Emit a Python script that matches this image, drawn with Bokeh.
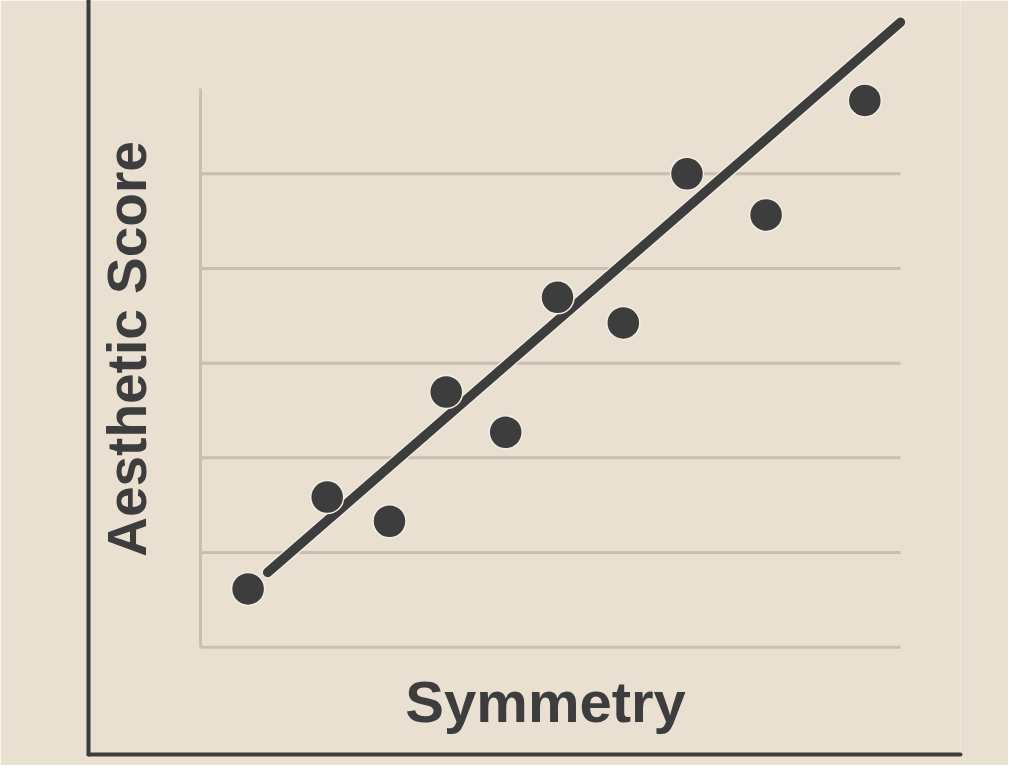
from bokeh.plotting import figure
from bokeh.models import Range1d, FixedTicker, Label
from bokeh.embed import file_html
from bokeh.resources import INLINE

# ---- data ----
symmetry = [0.68, 1.81, 2.70, 3.51, 4.36, 5.10, 6.04, 6.95, 8.08, 9.49]
aesthetic = [12.3, 31.7, 26.6, 53.9, 45.4, 73.9, 68.5, 100.0, 91.3, 115.5]
trend_x = [0.96, 10.0]
trend_y = [15.8, 132.0]
grid_y = [0, 20, 40, 60, 80, 100]
grid_x_span = [0, 10]
grid_v_top = 118
x_label = "Symmetry"
y_label = "Aesthetic Score"

BG = "#e9e0d1"
INK = "#3d3d3d"
GRID = "#c8bfb0"

p = figure(width=1008, height=765, output_backend="svg", toolbar_location=None,
           x_range=Range1d(-1.6, 10.857), y_range=Range1d(-22.67, 136.6),
           min_border_left=88, min_border_right=48, min_border_top=0, min_border_bottom=11)
p.background_fill_color = BG
p.border_fill_color = BG
p.outline_line_color = None
p.xgrid.visible = False
p.ygrid.visible = False

for ax in (p.xaxis[0], p.yaxis[0]):
    ax.ticker = FixedTicker(ticks=[])
    ax.major_tick_line_color = None
    ax.minor_tick_line_color = None
    ax.major_tick_out = 0
    ax.major_label_text_font_size = "0px"
    ax.axis_line_color = INK
    ax.axis_line_width = 4
    ax.axis_line_cap = "round"

# inner grid
p.segment(x0=[grid_x_span[0]] * len(grid_y), x1=[grid_x_span[1]] * len(grid_y),
          y0=grid_y, y1=grid_y, line_color=GRID, line_width=3)
p.segment(x0=[grid_x_span[0]], x1=[grid_x_span[0]], y0=[grid_y[0]], y1=[grid_v_top],
          line_color=GRID, line_width=3)

# trend line with light halo
p.line(trend_x, trend_y, line_color="#f3ede2", line_width=12, line_cap="round")
p.line(trend_x, trend_y, line_color=INK, line_width=9.5, line_cap="round")

# points
p.scatter(symmetry, aesthetic, size=33, fill_color=INK, line_color="#f3ede2", line_width=1.5)

p.add_layout(Label(x=4.93, y=-11.4, text=x_label, text_align="center",
                   text_baseline="alphabetic", text_font="Liberation Sans",
                   text_font_style="bold", text_font_size="58px", text_color=INK))
p.add_layout(Label(x=-1.057, y=63.0, text=y_label, angle=1.5708, text_align="center",
                   text_baseline="alphabetic", text_font="Liberation Sans",
                   text_font_style="bold", text_font_size="55px", text_color=INK))

open("out.html", "w").write(file_html(p, INLINE))
